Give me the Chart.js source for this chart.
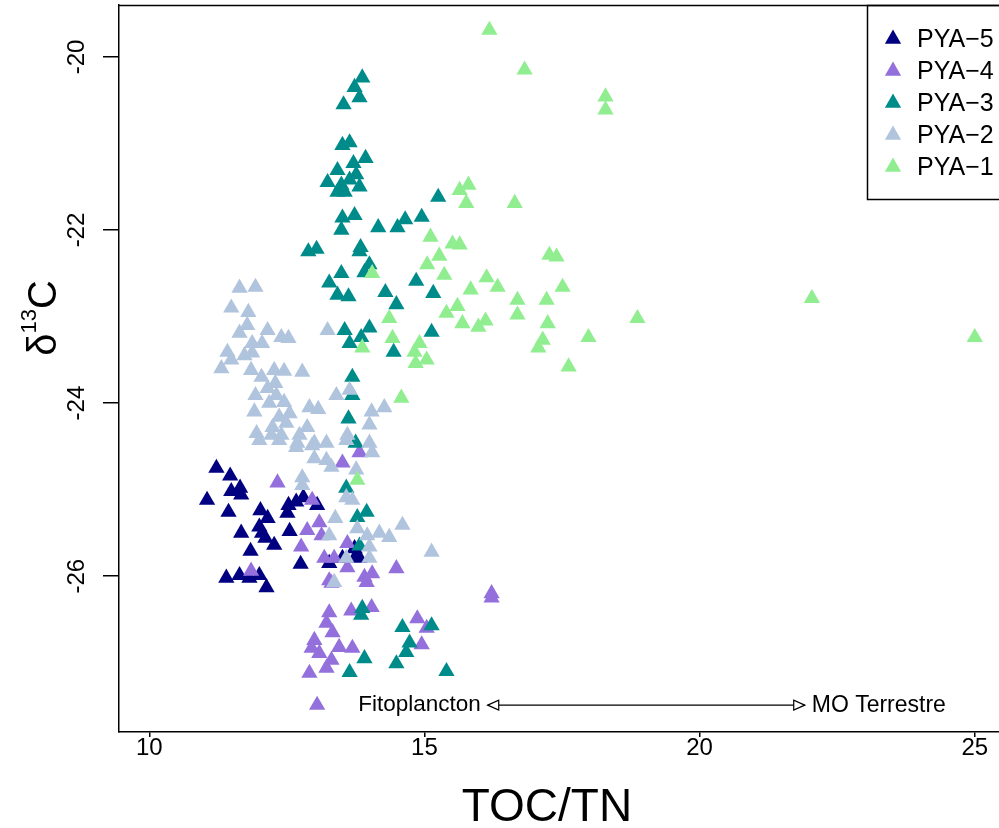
<!DOCTYPE html>
<html>
<head>
<meta charset="utf-8">
<script src="https://cdn.jsdelivr.net/npm/chart.js@4"></script>
<style>
  html, body { margin: 0; padding: 0; background: #fff; overflow: hidden; }
  canvas { display: block; }
</style>
</head>
<body>
<canvas id="chart" width="999" height="828"></canvas>
<script>
// TOC/TN (x) vs d13C (y), one array of [x, y] per core
const pya5 = [
  [11.22, -24.75], [11.47, -24.84], [11.49, -25.02], [11.65, -24.98], [11.67, -25.06],
  [11.05, -25.12], [11.44, -25.26], [12.02, -25.24], [12.15, -25.33], [12.00, -25.43],
  [11.67, -25.50], [12.05, -25.50], [12.11, -25.56], [12.27, -25.64], [11.84, -25.71],
  [12.53, -25.18], [12.67, -25.14], [12.80, -25.09], [13.05, -25.18], [12.51, -25.27],
  [12.55, -25.48], [12.75, -25.86], [11.40, -26.02], [11.64, -25.99], [11.82, -26.02],
  [12.00, -25.99], [12.13, -26.13], [13.27, -25.85], [13.51, -25.79], [13.76, -25.76],
  [13.82, -25.79], [13.73, -25.68]
];
const pya4 = [
  [12.33, -24.92], [12.96, -25.12], [13.09, -25.38], [12.87, -25.47], [13.13, -25.53],
  [12.76, -25.66], [13.60, -25.62], [13.51, -24.69], [13.82, -24.57], [11.85, -25.94],
  [13.18, -25.79], [13.36, -25.79], [13.60, -25.90], [13.31, -26.08], [13.91, -26.01],
  [14.05, -25.97], [14.49, -25.91], [16.22, -26.20], [16.22, -26.25], [13.27, -26.42],
  [13.67, -26.40], [14.04, -26.36], [13.22, -26.54], [13.33, -26.65], [13.00, -26.74],
  [12.95, -26.83], [13.09, -26.89], [13.45, -26.82], [13.69, -26.83], [13.31, -26.97],
  [13.22, -27.06], [12.91, -27.12], [14.87, -26.49], [15.04, -26.60], [14.95, -26.79],
  [13.27, -26.05], [13.95, -26.07], [13.05, -27.49]
];
const pya3 = [
  [13.87, -20.24], [13.73, -20.35], [13.82, -20.47], [13.53, -20.55], [13.51, -21.02],
  [13.64, -20.99], [13.93, -21.17], [13.71, -21.23], [13.42, -21.31], [13.76, -21.36],
  [13.24, -21.45], [13.49, -21.48], [13.64, -21.42], [13.82, -21.50], [13.42, -21.56],
  [13.55, -21.56], [13.51, -21.86], [13.73, -21.83], [13.49, -22.00], [14.16, -21.97],
  [14.51, -21.97], [14.65, -21.88], [14.95, -21.85], [15.25, -21.62], [12.89, -22.25],
  [13.04, -22.22], [13.84, -22.20], [13.82, -22.25], [13.49, -22.50], [13.91, -22.49],
  [14.00, -22.40], [13.27, -22.61], [13.42, -22.75], [13.62, -22.77], [14.29, -22.72],
  [14.49, -22.86], [14.85, -22.59], [15.16, -22.73], [13.55, -23.16], [13.85, -23.24],
  [14.00, -23.13], [13.64, -23.31], [14.44, -23.41], [15.13, -23.18], [13.69, -23.70],
  [13.69, -23.91], [13.62, -24.18], [13.75, -24.46], [13.58, -24.98], [13.78, -25.32],
  [13.95, -25.26], [13.82, -25.65], [13.87, -26.37], [13.85, -26.45], [14.60, -26.59],
  [15.13, -26.57], [14.73, -26.77], [14.67, -26.88], [13.91, -26.95], [14.49, -27.01],
  [13.64, -27.11], [15.40, -27.10]
];
const pya2 = [
  [11.64, -22.67], [11.93, -22.66], [11.49, -22.90], [11.80, -22.95], [11.78, -23.10],
  [11.64, -23.19], [12.15, -23.16], [12.40, -23.24], [12.53, -23.25], [11.87, -23.31],
  [12.05, -23.31], [11.42, -23.41], [11.73, -23.45], [11.87, -23.42], [11.49, -23.50],
  [11.31, -23.60], [11.85, -23.62], [12.04, -23.70], [12.27, -23.62], [12.45, -23.63],
  [12.78, -23.64], [12.29, -23.77], [12.15, -23.83], [11.93, -23.91], [12.31, -23.91],
  [12.18, -24.00], [12.45, -23.99], [11.91, -24.10], [12.55, -24.12], [12.91, -24.05],
  [13.07, -24.07], [12.36, -24.16], [12.49, -24.23], [12.87, -24.28], [12.24, -24.28],
  [11.95, -24.35], [12.22, -24.37], [12.40, -24.37], [12.73, -24.37], [13.24, -23.16],
  [13.40, -23.91], [13.64, -23.85], [14.04, -24.10], [14.27, -24.05], [14.00, -24.25],
  [13.60, -24.37], [12.69, -24.46], [13.00, -24.46], [13.22, -24.46], [12.00, -24.43],
  [12.36, -24.43], [12.67, -24.51], [12.96, -24.49], [13.58, -24.43], [14.00, -24.46],
  [14.05, -24.57], [13.00, -24.64], [13.22, -24.66], [13.31, -24.74], [13.76, -24.77],
  [12.78, -24.86], [12.78, -24.95], [13.58, -25.09], [13.69, -25.12], [13.38, -25.33],
  [13.27, -25.53], [13.78, -25.45], [13.96, -25.53], [14.18, -25.50], [14.36, -25.55],
  [14.60, -25.41], [14.00, -25.66], [13.58, -25.79], [14.00, -25.79], [13.36, -26.07],
  [15.13, -25.72]
];
const pya1 = [
  [16.18, -19.69], [16.82, -20.15], [18.29, -20.46], [18.29, -20.61], [25.00, -23.24],
  [22.04, -22.79], [18.87, -23.02], [17.98, -23.24], [17.62, -23.58], [15.80, -21.48],
  [15.64, -21.54], [15.76, -21.69], [16.64, -21.69], [15.11, -22.08], [15.51, -22.16],
  [15.64, -22.17], [15.27, -22.30], [15.05, -22.40], [15.36, -22.52], [14.05, -22.50],
  [16.13, -22.55], [16.33, -22.66], [15.84, -22.69], [17.27, -22.29], [17.40, -22.31],
  [17.51, -22.66], [15.60, -22.88], [16.69, -22.81], [17.22, -22.81], [15.40, -22.96],
  [16.69, -22.98], [14.36, -23.02], [15.69, -23.08], [16.11, -23.05], [15.98, -23.12],
  [17.24, -23.08], [14.42, -23.25], [17.15, -23.27], [17.07, -23.36], [14.91, -23.31],
  [14.82, -23.41], [15.04, -23.50], [14.84, -23.54], [14.58, -23.94], [13.87, -23.36],
  [13.78, -24.89]
];

// drawn bottom to top: PYA-5 first, PYA-1 last (Chart.js paints index 0 on top)
const seriesNames = ['PYA-1', 'PYA-2', 'PYA-3', 'PYA-4', 'PYA-5'];
const seriesData = [pya1, pya2, pya3, pya4, pya5];
const seriesColors = ['#90EE90', '#B0C4DE', '#008B8B', '#9370DB', '#000080'];

const xTicks = [10, 15, 20, 25];
const yTicks = [-20, -22, -24, -26];
const xRange = [9.45, 25.44];
const yRange = [-27.8, -19.4];

// arrow annotation, in data units
const arrowFrom = 16.15;
const arrowTo = 21.91;
const arrowY = -27.49;

const FONT = '"Liberation Sans", Arial, Helvetica, sans-serif';
const MARK = 9.4;

function triangle(ctx, cx, cy, r) {
    ctx.beginPath();
    ctx.moveTo(cx, cy - r);
    ctx.lineTo(cx + r * Math.sin(Math.PI / 3), cy + r / 2);
    ctx.lineTo(cx - r * Math.sin(Math.PI / 3), cy + r / 2);
    ctx.closePath();
}

const extras = {
    id: 'extras',
    afterDraw(chart) {
        const { ctx, chartArea: a, scales: { x, y } } = chart;
        ctx.save();
        ctx.strokeStyle = '#000';
        ctx.fillStyle = '#000';
        ctx.lineWidth = 1.5;

        // top edge of the box
        ctx.beginPath();
        ctx.moveTo(a.left, a.top + 0.5);
        ctx.lineTo(a.right, a.top + 0.5);
        ctx.stroke();

        // rotated y tick labels
        ctx.font = '24px ' + FONT;
        ctx.textAlign = 'center';
        ctx.textBaseline = 'middle';
        yTicks.forEach(v => {
            ctx.save();
            ctx.translate(77, y.getPixelForValue(v));
            ctx.rotate(-Math.PI / 2);
            ctx.fillText(String(v), 0, 0);
            ctx.restore();
        });

        // y title: delta 13 C
        ctx.save();
        ctx.translate(56, 318);
        ctx.rotate(-Math.PI / 2);
        ctx.textAlign = 'left';
        ctx.textBaseline = 'alphabetic';
        const big = '40px ' + FONT, small = '22px ' + FONT;
        ctx.font = big;
        const wd = ctx.measureText('\u03B4').width;
        const wc = ctx.measureText('C').width;
        ctx.font = small;
        const w13 = ctx.measureText('13').width;
        let u = -(wd + w13 + wc) / 2;
        ctx.font = big;
        ctx.fillText('\u03B4', u, 0);
        u += wd;
        ctx.font = small;
        ctx.fillText('13', u, -20);
        u += w13;
        ctx.font = big;
        ctx.fillText('C', u, 0);
        ctx.restore();

        // x title
        ctx.font = '46px ' + FONT;
        ctx.textAlign = 'center';
        ctx.textBaseline = 'middle';
        ctx.fillText('TOC/TN', 547, 808);

        // arrow annotation
        const ay = y.getPixelForValue(arrowY);
        const x0 = x.getPixelForValue(arrowFrom);
        const x1 = x.getPixelForValue(arrowTo);
        ctx.lineWidth = 1.2;
        ctx.beginPath();
        ctx.moveTo(x0, ay);
        ctx.lineTo(x1, ay);
        ctx.stroke();
        ctx.fillStyle = '#fff';
        ctx.beginPath();
        ctx.moveTo(x0, ay);
        ctx.lineTo(x0 + 11, ay - 5);
        ctx.lineTo(x0 + 11, ay + 5);
        ctx.closePath();
        ctx.fill();
        ctx.stroke();
        ctx.beginPath();
        ctx.moveTo(x1, ay);
        ctx.lineTo(x1 - 11, ay - 5);
        ctx.lineTo(x1 - 11, ay + 5);
        ctx.closePath();
        ctx.fill();
        ctx.stroke();
        ctx.fillStyle = '#000';
        ctx.font = '22.5px ' + FONT;
        ctx.textBaseline = 'middle';
        ctx.textAlign = 'right';
        ctx.fillText('Fitoplancton', x0 - 7, ay);
        ctx.textAlign = 'left';
        ctx.font = '23px ' + FONT;
        ctx.fillText('MO Terrestre', x1 + 7, ay);

        // legend box in the top right corner
        ctx.lineWidth = 1.5;
        ctx.strokeRect(867.5, a.top + 0.5, 160, 194);
        ctx.font = '25px ' + FONT;
        ctx.textAlign = 'left';
        ctx.textBaseline = 'middle';
        const order = chart.data.datasets.map((d, i) => i).reverse();
        order.forEach((i, k) => {
            const ds = chart.data.datasets[i];
            const cy = a.top + 34 + k * 32;
            ctx.fillStyle = ds.backgroundColor;
            triangle(ctx, 893, cy, MARK);
            ctx.fill();
            ctx.fillStyle = '#000';
            ctx.fillText(ds.label.replace('-', '\u2212'), 917, cy + 1);
        });
        ctx.restore();
    }
};

new Chart(document.getElementById('chart'), {
    type: 'scatter',
    data: {
        datasets: seriesNames.map((name, i) => ({
            label: name,
            data: seriesData[i].map(p => ({ x: p[0], y: p[1] })),
            pointStyle: 'triangle',
            pointRadius: MARK,
            pointHoverRadius: MARK,
            backgroundColor: seriesColors[i],
            borderColor: seriesColors[i],
            borderWidth: 0
        }))
    },
    options: {
        responsive: false,
        devicePixelRatio: 1,
        animation: false,
        layout: { autoPadding: false, padding: { top: 5, left: 0, right: 0, bottom: 0 } },
        plugins: {
            legend: { display: false },
            tooltip: { enabled: false }
        },
        scales: {
            x: {
                type: 'linear',
                min: xRange[0],
                max: xRange[1],
                afterFit: s => { s.height = 96; s.paddingLeft = 0; s.paddingRight = 0; },
                afterBuildTicks: s => { s.ticks = xTicks.map(v => ({ value: v })); },
                grid: { drawOnChartArea: false, drawTicks: true, tickLength: 5, color: '#000', lineWidth: 1.5 },
                border: { display: true, color: '#000', width: 1.5 },
                ticks: { color: '#000', font: { family: FONT, size: 24 }, padding: -3, maxRotation: 0 }
            },
            y: {
                type: 'linear',
                min: yRange[0],
                max: yRange[1],
                afterFit: s => { s.width = 119; s.paddingTop = 0; s.paddingBottom = 0; },
                afterBuildTicks: s => { s.ticks = yTicks.map(v => ({ value: v })); },
                grid: { drawOnChartArea: false, drawTicks: true, tickLength: 16, color: '#000', lineWidth: 1.5 },
                border: { display: true, color: '#000', width: 1.5 },
                ticks: { display: false }
            }
        }
    },
    plugins: [extras]
});
</script>
</body>
</html>
